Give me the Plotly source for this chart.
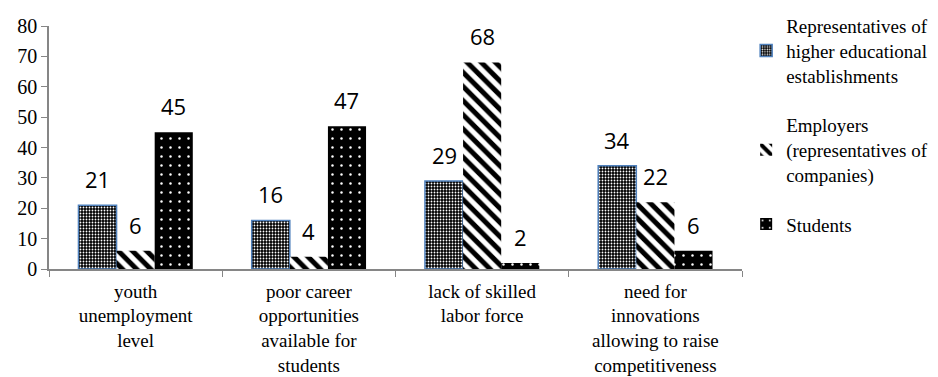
import plotly.graph_objects as go

categories = [
    "youth<br>unemployment<br>level",
    "poor career<br>opportunities<br>available for<br>students",
    "lack of skilled<br>labor force",
    "need for<br>innovations<br>allowing to raise<br>competitiveness",
]
series_names = [
    "Representatives of<br>higher educational<br>establishments",
    "Employers<br>(representatives of<br>companies)",
    "Students",
]
rep_values = [21, 16, 29, 34]
emp_values = [6, 4, 68, 22]
stu_values = [45, 47, 2, 6]
y_ticks = [0, 10, 20, 30, 40, 50, 60, 70, 80]

W, H = 938, 377
ML, MR, MT, MB = 49, 196, 26, 108
BARGAP = 0.34

serif = "Liberation Serif"
sans = "Open Sans"

fig = go.Figure()
fig.add_trace(go.Bar(
    name=series_names[0], x=categories, y=rep_values, legendgroup="a",
    marker=dict(color="black", line=dict(color="#4F81BD", width=1.5),
                pattern=dict(shape=".", fgcolor="white", bgcolor="black",
                             size=3, solidity=0.3, fillmode="replace")),
))
fig.add_trace(go.Bar(
    name=series_names[1], x=categories, y=emp_values, legendgroup="b",
    marker=dict(color="white", line=dict(color="white", width=0),
                pattern=dict(shape="\\", fgcolor="black", bgcolor="white",
                             size=10, solidity=0.5, fillmode="replace")),
))
fig.add_trace(go.Bar(
    name=series_names[2], x=categories, y=stu_values, legendgroup="c",
    marker=dict(color="black", line=dict(color="black", width=0),
                pattern=dict(shape=".", fgcolor="white", bgcolor="black",
                             size=9, solidity=0.06, fillmode="replace")),
))

plot_w = W - ML - MR
bar_w = plot_w / len(categories) * (1 - BARGAP) / 3
annotations = []
for i, vals in enumerate([rep_values, emp_values, stu_values]):
    for c, v in zip(categories, vals):
        annotations.append(dict(
            x=c, y=v, text=str(v), showarrow=False,
            xshift=(i - 1) * bar_w, yshift=26, yanchor="middle",
            font=dict(family=sans, size=22, color="black"),
        ))

fig.update_layout(
    width=W, height=H,
    margin=dict(l=ML, r=MR, t=MT, b=MB, autoexpand=False),
    paper_bgcolor="white", plot_bgcolor="white",
    barmode="group", bargap=BARGAP, bargroupgap=0,
    showlegend=True,
    legend=dict(x=1.006, y=1.078, xanchor="left", yanchor="top",
                font=dict(family=serif, size=19, color="black"),
                tracegroupgap=22, itemwidth=30, maxheight=370,
                bgcolor="rgba(0,0,0,0)"),
    annotations=annotations,
    xaxis=dict(showline=True, linecolor="#868686", linewidth=1.5,
               ticks="outside", ticklen=6, tickcolor="#868686",
               tickson="boundaries", showgrid=False, ticklabelstandoff=4,
               tickfont=dict(family=serif, size=19, color="black")),
    yaxis=dict(range=[0, 80], tickvals=y_ticks, showline=True,
               linecolor="#868686", linewidth=1.5, ticks="outside",
               ticklen=6, tickcolor="#868686", showgrid=False, zeroline=False,
               tickfont=dict(family=serif, size=20, color="black")),
)

fig.write_html("out.html")
